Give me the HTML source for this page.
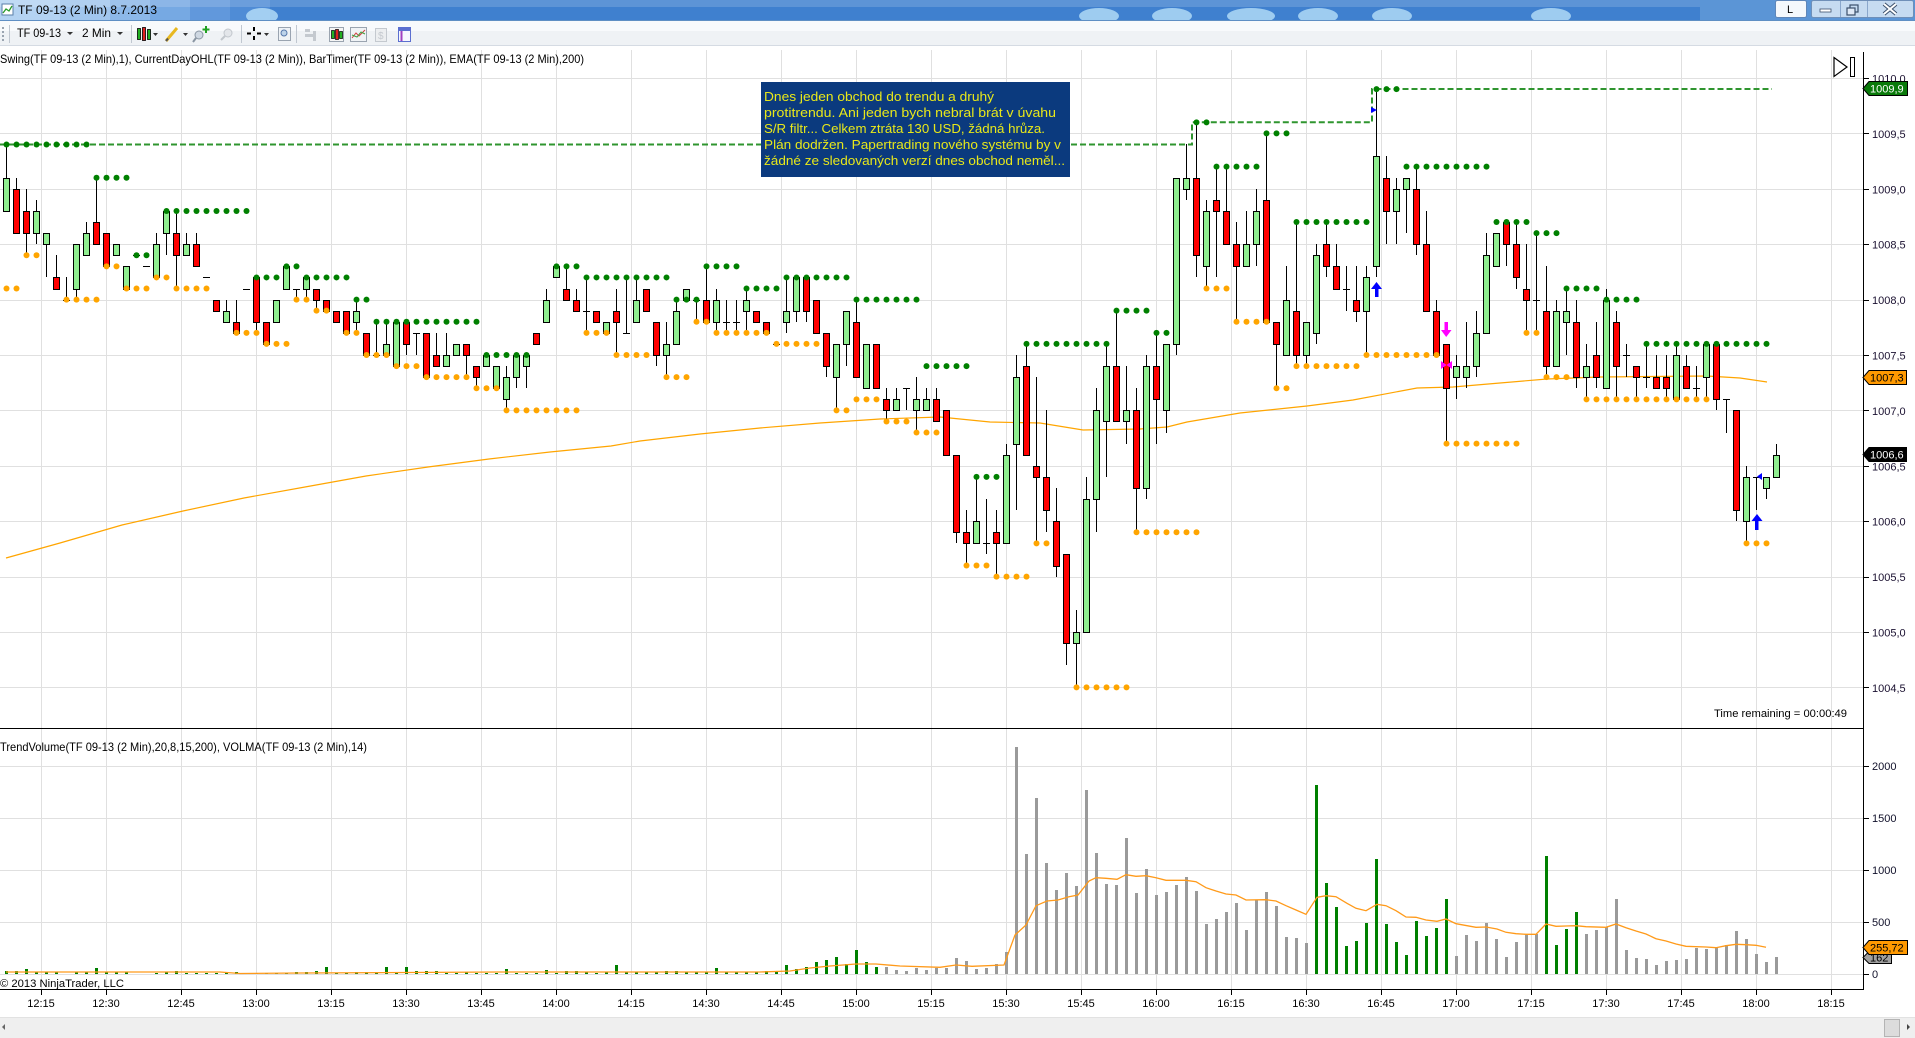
<!DOCTYPE html>
<html><head><meta charset="utf-8">
<style>
html,body{margin:0;padding:0;background:#fff;overflow:hidden;}
svg{display:block;}
text{font-family:"Liberation Sans",Arial,sans-serif;}
</style></head>
<body>
<svg id="chart" xmlns="http://www.w3.org/2000/svg" width="1915" height="1038" viewBox="0 0 1915 1038">
<rect width="1915" height="1038" fill="#fff"/>

<!-- title bar (solid stacked fills) -->
<rect x="0" y="0" width="1915" height="21" fill="#3f80cf"/>
<rect x="0" y="0" width="60" height="21" fill="#b4d3f2"/>
<rect x="60" y="0" width="50" height="21" fill="#a1c6ee"/>
<rect x="110" y="0" width="40" height="21" fill="#8cb8e9"/>
<rect x="150" y="0" width="40" height="21" fill="#76a9e3"/>
<rect x="190" y="0" width="40" height="21" fill="#6198dc"/>
<rect x="230" y="0" width="40" height="21" fill="#4f8cd6"/>
<rect x="0" y="0" width="1915" height="7" fill="#ffffff" fill-opacity="0.16"/>
<rect x="1700" y="0" width="215" height="21" fill="#5b95d6"/>
<g fill="#bfe6fb" fill-opacity="0.75">
<ellipse cx="262" cy="16" rx="16" ry="8"/>
<ellipse cx="1099" cy="16" rx="20" ry="8"/>
<ellipse cx="1172" cy="16" rx="20" ry="8"/>
<ellipse cx="1251" cy="16" rx="24" ry="8"/>
<ellipse cx="1318" cy="16" rx="20" ry="8"/>
<ellipse cx="1392" cy="16" rx="20" ry="8"/>
<ellipse cx="1551" cy="16" rx="20" ry="8"/>
</g>
<line x1="0" y1="20.5" x2="1915" y2="20.5" stroke="#5f8fc4"/>
<rect x="2" y="4" width="11" height="11" fill="#fff" stroke="#5a7fa8"/>
<polyline points="3,13 6,9 9,11 12,6" fill="none" stroke="#2a9a2a" stroke-width="1.3"/>
<text x="18" y="14" font-size="12" textLength="139" lengthAdjust="spacingAndGlyphs" fill="#000">TF 09-13 (2 Min)  8.7.2013</text>
<rect x="1775.5" y="0.5" width="31" height="17" rx="2" fill="#f4f8fc" stroke="#5f86b8"/>
<text x="1787" y="13" font-size="11" fill="#000">L</text>
<rect x="1811.5" y="0.5" width="102" height="17" rx="2" fill="#c6dbf1" stroke="#6f8fb8"/>
<line x1="1840.5" y1="1" x2="1840.5" y2="17" stroke="#8aa7cc"/>
<line x1="1867.5" y1="1" x2="1867.5" y2="17" stroke="#8aa7cc"/>
<rect x="1820" y="9" width="11" height="3" fill="#fff" stroke="#3b4f6b" stroke-width="0.8"/>
<rect x="1850" y="5" width="8" height="7" fill="none" stroke="#3b4f6b" stroke-width="1.2"/>
<rect x="1847" y="8" width="8" height="7" fill="#dfe9f6" stroke="#3b4f6b" stroke-width="1.2"/>
<path d="M1884,4 L1896,14 M1896,4 L1884,14" stroke="#3b4f6b" stroke-width="4"/>
<path d="M1884,4 L1896,14 M1896,4 L1884,14" stroke="#fff" stroke-width="2"/>

<!-- toolbar -->
<rect x="0" y="21" width="1915" height="25" fill="#eff2f5"/>
<rect x="0" y="21" width="1915" height="10" fill="#f8fafc"/>
<line x1="0" y1="45.5" x2="1915" y2="45.5" stroke="#d5dbe3"/>
<g fill="#9aa4b0"><rect x="2" y="27" width="2" height="2"/><rect x="2" y="31" width="2" height="2"/><rect x="2" y="35" width="2" height="2"/><rect x="2" y="39" width="2" height="2"/></g>
<line x1="9.5" y1="25" x2="9.5" y2="43" stroke="#c0c7d0"/>
<text x="17" y="37" font-size="12" textLength="44" lengthAdjust="spacingAndGlyphs" fill="#000">TF 09-13</text>
<polygon points="67,32 73,32 70,35" fill="#333"/>
<text x="82" y="37" font-size="12" textLength="29" lengthAdjust="spacingAndGlyphs" fill="#000">2 Min</text>
<polygon points="117,32 123,32 120,35" fill="#333"/>
<line x1="131.5" y1="25" x2="131.5" y2="43" stroke="#c0c7d0"/>
<g stroke="#000" stroke-width="0.8"><rect x="137.5" y="28.5" width="3" height="11" fill="#22b022"/><rect x="142.5" y="27.5" width="3" height="13" fill="#e02020"/><rect x="147.5" y="29.5" width="3" height="10" fill="#22b022"/></g>
<polygon points="153,33 158,33 155.5,36" fill="#333"/>
<line x1="166" y1="41" x2="177" y2="28" stroke="#e8b820" stroke-width="3"/>
<line x1="166" y1="41" x2="168" y2="38.5" stroke="#555" stroke-width="2"/>
<polygon points="183,33 188,33 185.5,36" fill="#333"/>
<circle cx="199" cy="35" r="4" fill="#cfd8e2" stroke="#8a96a3"/><line x1="196" y1="38" x2="193" y2="42" stroke="#8a96a3" stroke-width="2"/><path d="M206,26 v7 M202.5,29.5 h7" stroke="#20a020" stroke-width="2"/>
<circle cx="228" cy="33" r="4" fill="#e3e6ea" stroke="#c2c7cd"/><line x1="225" y1="36" x2="221" y2="40" stroke="#c2c7cd" stroke-width="2"/>
<line x1="241.5" y1="25" x2="241.5" y2="43" stroke="#c0c7d0"/>
<path d="M254,27 v4 M254,36 v4 M247,33.5 h4 M257,33.5 h4" stroke="#000" stroke-width="2"/>
<polygon points="264,33 269,33 266.5,36" fill="#333"/>
<rect x="278.5" y="27.5" width="12" height="13" fill="#eef2f6" stroke="#9aa4b0"/><circle cx="284" cy="33" r="3" fill="#bcd3ea" stroke="#5577aa"/>
<line x1="296.5" y1="25" x2="296.5" y2="43" stroke="#c0c7d0"/>
<g fill="#c4c9cf"><rect x="305" y="29" width="5" height="3"/><rect x="305" y="34" width="8" height="3"/><rect x="313" y="31" width="3" height="10"/></g>
<rect x="329.5" y="27.5" width="14" height="14" fill="#f5f5f5" stroke="#9aa4b0"/>
<g stroke="#000" stroke-width="0.7"><rect x="331.5" y="30.5" width="3" height="8" fill="#22b022"/><rect x="335.5" y="29.5" width="3" height="10" fill="#e02020"/><rect x="339.5" y="31.5" width="3" height="7" fill="#22b022"/></g>
<rect x="350.5" y="27.5" width="16" height="14" fill="#f0f3f6" stroke="#9aa4b0"/><polyline points="352,38 356,33 359,36 365,30" fill="none" stroke="#d04040"/><polyline points="352,35 357,37 361,32 365,34" fill="none" stroke="#40a040"/>
<rect x="375.5" y="28.5" width="11" height="13" fill="#eceef0" stroke="#c4c9cf"/><text x="378" y="39" font-size="10" fill="#c4c9cf">$</text>
<rect x="398.5" y="27.5" width="12" height="14" fill="#f5f7ff" stroke="#5b6fd0"/><rect x="399" y="28" width="11" height="3" fill="#5b6fd0"/><line x1="401.5" y1="31" x2="401.5" y2="41" stroke="#a040c0" stroke-width="2"/>

<!-- dynamic layers -->
<g id="grid"></g>
<g id="ema"></g>
<g id="ohl"></g>
<g id="candles"></g>
<g id="dots"></g>
<g id="vol"></g>

<!-- markers -->
<polygon points="1371,107 1377,110 1371,113" fill="#0000ff"/>
<polygon points="1371,289 1376.5,282 1382,289" fill="#0000ff"/>
<rect x="1375" y="288" width="3.5" height="9" fill="#0000ff"/>
<rect x="1444.5" y="322" width="3.5" height="9" fill="#ff00ff"/>
<polygon points="1441,330 1451.5,330 1446.2,337" fill="#ff00ff"/>
<polygon points="1441,361 1446.5,365 1441,369" fill="#ff00ff"/>
<polygon points="1452,361 1446.5,365 1452,369" fill="#ff00ff"/>
<polygon points="1762,473 1757,476.5 1762,480" fill="#0000ff"/>
<polygon points="1751.5,521 1757,514 1762.5,521" fill="#0000ff"/>
<rect x="1755" y="520" width="3.5" height="10" fill="#0000ff"/>

<!-- play-end icon -->
<polygon points="1834,57.5 1847,67 1834,76.5" fill="#fff" stroke="#000" stroke-width="1.2"/>
<rect x="1850.5" y="57.5" width="4" height="19" fill="#fff" stroke="#000"/>

<!-- pane borders and axes -->
<line x1="1863.5" y1="52" x2="1863.5" y2="990" stroke="#000"/>
<line x1="0" y1="728.5" x2="1864" y2="728.5" stroke="#000"/>
<line x1="0" y1="989.5" x2="1864" y2="989.5" stroke="#000"/>

<!-- indicator labels -->
<text x="0" y="63" font-size="12" textLength="584" lengthAdjust="spacingAndGlyphs" fill="#000">Swing(TF 09-13 (2 Min),1), CurrentDayOHL(TF 09-13 (2 Min)), BarTimer(TF 09-13 (2 Min)), EMA(TF 09-13 (2 Min),200)</text>
<text x="0" y="751" font-size="12" textLength="367" lengthAdjust="spacingAndGlyphs" fill="#000">TrendVolume(TF 09-13 (2 Min),20,8,15,200), VOLMA(TF 09-13 (2 Min),14)</text>
<text x="0" y="987" font-size="11" textLength="124" lengthAdjust="spacingAndGlyphs" fill="#000">© 2013 NinjaTrader, LLC</text>
<text x="1714" y="717" font-size="11" textLength="133" lengthAdjust="spacingAndGlyphs" fill="#000">Time remaining = 00:00:49</text>

<!-- price axis labels -->
<g font-size="11" fill="#1a1030">
<text x="1872" y="82.5">1010,0</text>
<text x="1872" y="137.9">1009,5</text>
<text x="1872" y="193.3">1009,0</text>
<text x="1872" y="248.7">1008,5</text>
<text x="1872" y="304.1">1008,0</text>
<text x="1872" y="359.5">1007,5</text>
<text x="1872" y="414.9">1007,0</text>
<text x="1872" y="470.3">1006,5</text>
<text x="1872" y="525.7">1006,0</text>
<text x="1872" y="581.1">1005,5</text>
<text x="1872" y="636.5">1005,0</text>
<text x="1872" y="691.9">1004,5</text>
</g>
<g font-size="11" fill="#10102a">
<text x="1872" y="770">2000</text>
<text x="1872" y="822">1500</text>
<text x="1872" y="874">1000</text>
<text x="1872" y="926">500</text>
<text x="1872" y="978">0</text>
</g>
<g stroke="#000">
<line x1="1863" y1="78.5" x2="1869" y2="78.5"/><line x1="1863" y1="133.5" x2="1869" y2="133.5"/><line x1="1863" y1="189.5" x2="1869" y2="189.5"/><line x1="1863" y1="244.5" x2="1869" y2="244.5"/><line x1="1863" y1="300.5" x2="1869" y2="300.5"/><line x1="1863" y1="355.5" x2="1869" y2="355.5"/><line x1="1863" y1="410.5" x2="1869" y2="410.5"/><line x1="1863" y1="466.5" x2="1869" y2="466.5"/><line x1="1863" y1="521.5" x2="1869" y2="521.5"/><line x1="1863" y1="577.5" x2="1869" y2="577.5"/><line x1="1863" y1="632.5" x2="1869" y2="632.5"/><line x1="1863" y1="687.5" x2="1869" y2="687.5"/>
<line x1="1863" y1="766.5" x2="1869" y2="766.5"/><line x1="1863" y1="818.5" x2="1869" y2="818.5"/><line x1="1863" y1="870.5" x2="1869" y2="870.5"/><line x1="1863" y1="922.5" x2="1869" y2="922.5"/><line x1="1863" y1="974.5" x2="1869" y2="974.5"/>
</g>

<!-- value flags -->
<polygon points="1863,88.5 1869,81.5 1907.5,81.5 1907.5,95.5 1869,95.5" fill="#0a7a0a" stroke="#000"/>
<text x="1870" y="92.5" font-size="11" fill="#fff">1009,9</text>
<polygon points="1863,377.5 1869,370.5 1906.5,370.5 1906.5,384.5 1869,384.5" fill="#ff9900" stroke="#000"/>
<text x="1870" y="381.5" font-size="11" fill="#000">1007,3</text>
<polygon points="1863,454.5 1869,447.5 1906.5,447.5 1906.5,461.5 1869,461.5" fill="#000" stroke="#000"/>
<text x="1870" y="458.5" font-size="11" fill="#fff">1006,6</text>
<polygon points="1863,957.5 1869,951.5 1891.5,951.5 1891.5,963.5 1869,963.5" fill="#a0a0a0" stroke="#000"/>
<text x="1870" y="961.5" font-size="11" fill="#000">162</text>
<polygon points="1863,947.5 1869,940.5 1907.5,940.5 1907.5,954.5 1869,954.5" fill="#ff9900" stroke="#000"/>
<text x="1870" y="951.5" font-size="11" fill="#000">255,72</text>

<!-- time axis labels -->
<g font-size="11" fill="#000" text-anchor="middle">
<text x="41" y="1007">12:15</text><text x="106" y="1007">12:30</text><text x="181" y="1007">12:45</text><text x="256" y="1007">13:00</text><text x="331" y="1007">13:15</text><text x="406" y="1007">13:30</text><text x="481" y="1007">13:45</text><text x="556" y="1007">14:00</text><text x="631" y="1007">14:15</text><text x="706" y="1007">14:30</text><text x="781" y="1007">14:45</text><text x="856" y="1007">15:00</text><text x="931" y="1007">15:15</text><text x="1006" y="1007">15:30</text><text x="1081" y="1007">15:45</text><text x="1156" y="1007">16:00</text><text x="1231" y="1007">16:15</text><text x="1306" y="1007">16:30</text><text x="1381" y="1007">16:45</text><text x="1456" y="1007">17:00</text><text x="1531" y="1007">17:15</text><text x="1606" y="1007">17:30</text><text x="1681" y="1007">17:45</text><text x="1756" y="1007">18:00</text><text x="1831" y="1007">18:15</text>
</g>
<g id="tticks"></g>

<!-- scrollbar -->
<rect x="0" y="1017" width="1915" height="21" fill="#efefef"/>
<line x1="0" y1="1017.5" x2="1915" y2="1017.5" stroke="#e2e2e2"/>
<polygon points="5,1024 2,1027 5,1030" fill="#666"/>
<rect x="1884.5" y="1019.5" width="15" height="17" fill="#dcdcdc" stroke="#b4b4b4"/>
<polygon points="1907,1024 1910,1027 1907,1030" fill="#444"/>

<!-- annotation -->
<rect x="761" y="82" width="309" height="95" fill="#0b3a7e"/>
<g font-size="13" fill="#e8e81a">
<text x="764" y="101" textLength="230" lengthAdjust="spacingAndGlyphs">Dnes jeden obchod do trendu a druhý</text>
<text x="764" y="117" textLength="292" lengthAdjust="spacingAndGlyphs">protitrendu. Ani jeden bych nebral brát v úvahu</text>
<text x="764" y="133" textLength="281" lengthAdjust="spacingAndGlyphs">S/R filtr... Celkem ztráta 130 USD, žádná hrůza.</text>
<text x="764" y="149" textLength="297" lengthAdjust="spacingAndGlyphs">Plán dodržen. Papertrading nového systému by v</text>
<text x="764" y="165" textLength="301" lengthAdjust="spacingAndGlyphs">žádné ze sledovaných verzí dnes obchod neměl...</text>
</g>
</svg>
<script>
(function(){
var NS='http://www.w3.org/2000/svg';
function add(p,tag,a){var e=document.createElementNS(NS,tag);for(var k in a)e.setAttribute(k,a[k]);p.appendChild(e);return e;}
function Y(p){return 78+(10-p)*110.8;}
function X(k){return Math.round(6.3+10*k);}
var gG=document.getElementById('grid'),gE=document.getElementById('ema'),gO=document.getElementById('ohl'),
gC=document.getElementById('candles'),gD=document.getElementById('dots'),gV=document.getElementById('vol'),gT=document.getElementById('tticks');
var gx=[41,106];for(var x=181;x<=1831;x+=75)gx.push(x);
gx.forEach(function(x){add(gG,'line',{x1:x+.5,y1:50,x2:x+.5,y2:989,stroke:'#e0e0e0'});add(gT,'line',{x1:x+.5,y1:989,x2:x+.5,y2:995,stroke:'#000'});});
for(var i=0;i<=11;i++){var y=Math.round(78+i*55.4)+.5;add(gG,'line',{x1:0,y1:y,x2:1863,y2:y,stroke:'#e0e0e0'});}
[766,818,870,922,974].forEach(function(y){add(gG,'line',{x1:0,y1:y+.5,x2:1863,y2:y+.5,stroke:'#e0e0e0'});});
var ema=[[6,558],[60,543],[122,525],[183,511],[244,498],[305,487],[366,476],[428,467],[489,459],[550,452],[611,446],[640,441],[700,434],[760,428],[820,423],[880,419],[940,417],[990,422],[1040,423],[1083,430],[1140,429],[1167,427],[1187,422],[1240,413],[1307,406],[1353,400],[1417,388],[1453,387],[1500,383],[1547,379],[1600,377],[1707,376],[1740,378],[1767,382]];
add(gE,'polyline',{points:ema.map(function(p){return p.join(',');}).join(' '),fill:'none',stroke:'#ffa500','stroke-width':1.2});
add(gO,'polyline',{points:'0,144.5 1192,144.5 1192,122.3 1372,122.3 1372,89 1772,89',fill:'none',stroke:'#2f952f','stroke-width':2,'stroke-dasharray':'6 3'});
var C=[[8.8,9.4,8.8,9.1],[9.0,9.1,8.6,8.6],[8.8,9.0,8.4,8.6],[8.6,8.9,8.5,8.8],[8.5,8.6,8.2,8.6],[8.2,8.4,8.1,8.1],[8.0,8.2,8.0,8.0],[8.1,8.5,8.0,8.5],[8.4,8.7,8.4,8.6],[8.7,9.1,8.5,8.5],
[8.6,8.6,8.3,8.3],[8.4,8.5,8.4,8.5],[8.1,8.3,8.1,8.3],[8.4,8.4,8.4,8.4],[8.3,8.3,8.3,8.3],[8.2,8.6,8.2,8.5],[8.6,8.8,8.4,8.8],[8.6,8.8,8.1,8.4],[8.4,8.6,8.4,8.5],[8.5,8.6,8.3,8.3],
[8.2,8.2,8.2,8.2],[8.0,8.0,7.9,7.9],[7.8,8.0,7.8,7.9],[7.8,8.0,7.7,7.7],[8.1,8.1,8.1,8.1],[8.2,8.2,7.7,7.8],[7.8,7.8,7.6,7.6],[7.8,8.0,7.8,8.0],[8.1,8.3,8.1,8.3],[8.1,8.1,8.0,8.1],
[8.1,8.2,8.0,8.2],[8.1,8.1,7.9,8.0],[8.0,8.0,7.9,7.9],[7.9,7.9,7.8,7.8],[7.9,7.9,7.7,7.7],[7.8,8.0,7.7,7.9],[7.7,7.7,7.5,7.5],[7.5,7.8,7.5,7.5],[7.5,7.8,7.5,7.6],[7.4,7.8,7.4,7.8],
[7.8,7.8,7.5,7.6],[7.7,7.7,7.5,7.7],[7.7,7.7,7.3,7.3],[7.5,7.7,7.4,7.4],[7.4,7.7,7.4,7.5],[7.5,7.6,7.5,7.6],[7.6,7.6,7.3,7.5],[7.4,7.4,7.2,7.3],[7.4,7.5,7.4,7.5],[7.2,7.4,7.2,7.4],
[7.1,7.4,7.0,7.3],[7.3,7.5,7.2,7.5],[7.4,7.5,7.2,7.5],[7.7,7.7,7.6,7.6],[7.8,8.1,7.8,8.0],[8.2,8.3,8.2,8.3],[8.1,8.3,8.0,8.0],[8.0,8.1,7.9,7.9],[7.9,8.2,7.7,7.9],[7.9,7.9,7.8,7.8],
[7.7,7.8,7.7,7.8],[7.9,8.1,7.5,7.8],[7.7,8.2,7.7,7.7],[7.8,8.2,7.8,8.0],[8.1,8.1,7.9,7.9],[7.8,7.8,7.4,7.5],[7.5,7.8,7.3,7.6],[7.6,8.0,7.6,7.9],[8.0,8.1,8.0,8.1],[8.0,8.0,7.8,8.0],
[8.0,8.3,7.8,7.8],[7.8,8.1,7.7,8.0],[7.8,8.0,7.7,7.8],[7.8,8.0,7.7,7.8],[7.9,8.1,7.7,8.0],[7.9,7.9,7.8,7.8],[7.8,7.8,7.7,7.7],[7.6,7.6,7.6,7.6],[7.8,8.2,7.7,7.9],[7.9,8.2,7.8,8.2],
[8.2,8.2,7.8,7.9],[8.0,8.0,7.7,7.7],[7.7,7.7,7.3,7.4],[7.3,7.6,7.0,7.6],[7.6,7.9,7.4,7.9],[7.8,8.0,7.3,7.3],[7.2,7.6,7.2,7.6],[7.6,7.6,7.2,7.2],[7.1,7.2,6.9,7.0],[7.0,7.2,7.0,7.1],
[7.2,7.2,7.0,7.2],[7.0,7.3,6.8,7.1],[7.0,7.2,7.0,7.1],[7.1,7.2,6.9,6.9],[7.0,7.0,6.6,6.6],[6.6,6.6,5.8,5.9],[5.9,6.1,5.6,5.8],[5.8,6.4,5.8,6.0],[5.8,6.2,5.7,5.8],[5.9,6.1,5.5,5.8],
[5.8,6.7,5.8,6.6],[6.7,7.5,6.1,7.3],[7.4,7.6,6.6,6.6],[6.5,7.3,5.8,6.4],[6.4,7.0,5.9,6.1],[6.0,6.3,5.5,5.6],[5.7,5.7,4.7,4.9],[4.9,5.2,4.5,5.0],[5.0,6.4,5.0,6.2],[6.2,7.2,5.9,7.0],
[6.9,7.6,6.4,7.4],[7.4,7.9,6.9,6.9],[6.9,7.4,6.7,7.0],[7.0,7.2,5.9,6.3],[6.3,7.5,6.2,7.4],[7.4,7.7,6.7,7.1],[7.0,7.6,6.8,7.6],[7.6,9.1,7.5,9.1],[9.0,9.4,8.9,9.1],[9.1,9.6,8.2,8.4],
[8.3,8.9,8.1,8.8],[8.9,9.2,8.2,8.8],[8.8,9.2,8.5,8.5],[8.5,8.7,7.8,8.3],[8.3,8.8,8.3,8.5],[8.5,9.0,8.3,8.8],[8.9,9.5,7.8,7.8],[7.8,7.8,7.2,7.6],[7.5,8.3,7.5,8.0],[7.9,8.7,7.4,7.5],
[7.5,7.8,7.4,7.8],[7.7,8.5,7.6,8.4],[8.5,8.7,8.2,8.3],[8.3,8.5,8.1,8.1],[8.1,8.3,7.9,8.1],[8.0,8.3,7.8,7.9],[7.9,8.3,7.5,8.2],[8.3,9.9,8.2,9.3],[9.1,9.3,8.5,8.8],[8.8,9.1,8.5,9.0],
[9.0,9.1,8.6,9.1],[9.0,9.2,8.4,8.5],[8.5,8.8,7.9,7.9],[7.9,8.0,7.5,7.5],[7.6,7.6,6.7,7.2],[7.3,7.5,7.1,7.4],[7.3,7.8,7.2,7.4],[7.4,7.9,7.3,7.7],[7.7,8.6,7.7,8.4],[8.3,8.6,8.3,8.6],
[8.7,8.7,8.3,8.5],[8.5,8.7,8.1,8.2],[8.1,8.5,7.7,8.0],[8.0,8.6,7.7,8.0],[7.9,8.3,7.3,7.4],[7.4,8.0,7.4,7.9],[7.8,8.1,7.5,7.9],[7.8,8.0,7.2,7.3],[7.3,7.6,7.1,7.4],[7.5,7.8,7.2,7.3],
[7.2,8.1,7.2,8.0],[7.8,7.9,7.1,7.4],[7.5,7.6,7.3,7.5],[7.4,7.4,7.1,7.3],[7.3,7.6,7.2,7.3],[7.3,7.5,7.2,7.2],[7.3,7.5,7.1,7.2],[7.1,7.6,7.1,7.5],[7.4,7.5,7.2,7.2],[7.2,7.4,7.1,7.2],
[7.3,7.6,7.1,7.6],[7.6,7.6,7.0,7.1],[7.1,7.1,6.8,7.1],[7.0,7.0,6.0,6.1],[6.0,6.5,5.8,6.4],[6.4,6.4,6.1,6.4],[6.3,6.4,6.2,6.4],[6.4,6.7,6.4,6.6]];
C.forEach(function(c,k){
 var o=c[0],h=c[1],l=c[2],cl=c[3],x=X(k);
 var yh=Math.round(Y(h)),yl=Math.round(Y(l));
 if(yl>yh)add(gC,'line',{x1:x+.5,y1:yh,x2:x+.5,y2:yl,stroke:'#000'});
 if(Math.abs(o-cl)<0.001){var yy=Math.round(Y(o))+.5;add(gC,'line',{x1:x-3,y1:yy,x2:x+4,y2:yy,stroke:'#000'});}
 else{var t=Math.round(Y(Math.max(o,cl))),b=Math.round(Y(Math.min(o,cl)));
  add(gC,'rect',{x:x-2.5,y:t+.5,width:6,height:Math.max(b-t,1),fill:cl>o?'#90ee90':'#ff0000',stroke:'#000'});}
});
var G=[[0,8,9.4],[9,12,9.1],[13,14,8.4],[16,24,8.8],[25,27,8.2],[28,29,8.3],[30,34,8.2],[35,36,8.0],[37,47,7.8],[48,52,7.5],[55,57,8.3],[58,66,8.2],[67,69,8.0],[70,73,8.3],[74,77,8.1],[78,84,8.2],[85,91,8.0],[92,96,7.4],[97,99,6.4],[102,110,7.6],[111,114,7.9],[115,116,7.7],[119,120,9.6],[121,125,9.2],[126,128,9.5],[129,136,8.7],[137,139,9.9],[140,148,9.2],[149,152,8.7],[153,155,8.6],[156,159,8.1],[160,163,8.0],[164,176,7.6]];
var O=[[0,1,8.1],[2,3,8.4],[6,9,8.0],[10,11,8.3],[12,14,8.1],[15,16,8.2],[17,20,8.1],[23,25,7.7],[26,28,7.6],[29,30,8.0],[31,32,7.9],[34,35,7.7],[36,38,7.5],[39,41,7.4],[42,46,7.3],[47,49,7.2],[50,57,7.0],[58,60,7.7],[61,64,7.5],[66,68,7.3],[69,70,7.8],[71,76,7.7],[77,81,7.6],[83,84,7.0],[85,87,7.1],[88,90,6.9],[91,93,6.8],[96,98,5.6],[99,102,5.5],[103,104,5.8],[107,112,4.5],[113,119,5.9],[120,122,8.1],[123,126,7.8],[127,128,7.2],[129,135,7.4],[136,143,7.5],[144,151,6.7],[152,153,7.7],[154,156,7.3],[158,170,7.1],[174,176,5.8]];
function dots(arr,col){arr.forEach(function(r){for(var k=r[0];k<=r[1];k++)add(gD,'circle',{cx:X(k)+.5,cy:Y(r[2]),r:3,fill:col});});}
dots(G,'#008000');dots(O,'#ffa500');
var V=[3,3,5,2,2,2,0,2,2,6,2,2,2,0,0,1,2,3,1,1,1,1,1,2,1,1,1,1,1,2,2,3,7,1,1,2,2,2,7,2,7,3,3,3,1,1,2,1,1,1,5,1,1,1,4,1,3,3,2,1,2,9,2,2,2,2,3,3,2,2,2,6,2,2,2,2,3,2,9,5,7,12,14,17,10,24,12,7,7,4,3,6,4,6,
6,16,13,5,6,10,22,227,120,176,111,84,101,88,184,121,90,89,136,81,105,79,82,89,97,83,50,55,62,71,44,74,82,68,37,36,31,189,91,67,28,33,51,115,50,32,19,53,38,46,75,18,39,33,51,35,17,32,39,40,118,29,45,62,40,44,47,75,24,16,15,9,13,14,15,26,25,27,29,43,35,20,12,17];
V.forEach(function(h,k){if(h<=0)return;var green=(k<=87)||(k>=131&&k<=144)||(k>=154&&k<=157);
 add(gV,'rect',{x:X(k)-1,y:974-h,width:3,height:h,fill:green?'#008000':'#9a9a9a'});});
var VM=[[6,972],[220,972],[240,973.5],[300,973],[500,972],[760,972],[790,971],[810,968],[830,966],[856,964],[876,964],[900,966],[940,967.3],[956,965],[972,966.3],[1004,965],[1015,935],[1026,925],[1036,905.7],[1047,901],[1058,900],[1069,896.7],[1078,895],[1089,881],[1096,877.7],[1106,878.3],[1117,879.3],[1126,874.7],[1136,876.3],[1146,875.7],[1156,877.7],[1166,880.3],[1186,880.3],[1196,881.7],[1206,887.7],[1216,891],[1226,894],[1236,895],[1246,900],[1266,899.7],[1276,901],[1286,905.7],[1296,910],[1306,914.3],[1317,897.3],[1326,895.7],[1336,896.7],[1347,903.3],[1356,908.3],[1366,910.7],[1377,904.3],[1386,905.7],[1396,910.7],[1406,917],[1416,917.3],[1426,920],[1437,921.3],[1446,919],[1456,923.7],[1467,925.7],[1476,927.3],[1486,927],[1497,929],[1506,932.3],[1516,933.7],[1526,934.3],[1536,934.3],[1546,924],[1556,926.3],[1566,926],[1576,925.7],[1586,926.7],[1606,927.3],[1616,924],[1626,927.7],[1636,931],[1646,934],[1656,938.7],[1666,941],[1676,944],[1686,946.3],[1706,947],[1716,947.7],[1726,945.7],[1736,944.3],[1746,944.7],[1756,945.3],[1766,947.3]];
add(gV,'polyline',{points:VM.map(function(p){return p.join(',');}).join(' '),fill:'none',stroke:'#ff9a1a','stroke-width':1.3});
})();
</script>
</body></html>
